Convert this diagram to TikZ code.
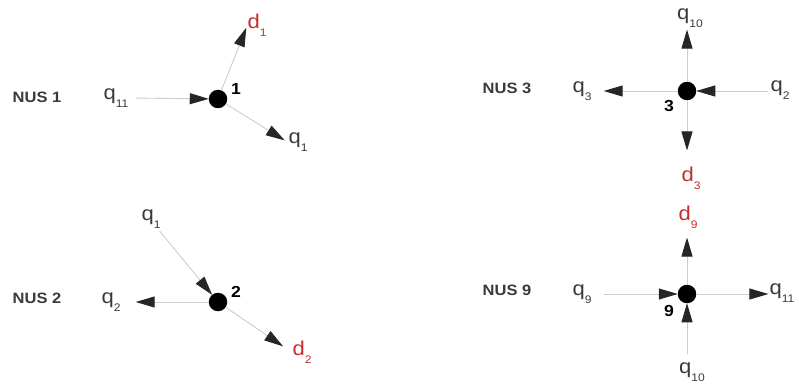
\documentclass[tikz,border=0pt]{standalone}
\usepackage{fontspec}
\setmainfont[FakeStretch=1.1]{Liberation Sans}
\usepackage{tikz}
\usetikzlibrary{arrows.meta, positioning}

\definecolor{FlowGray}{RGB}{58, 58, 58}
\definecolor{FlowRed}{RGB}{200, 45, 45}
\definecolor{LinkGray}{RGB}{205, 205, 205}
\definecolor{TipGray}{RGB}{38, 38, 38}

% flow label with lowered index
\newcommand{\flowlbl}[2]{#1\raisebox{-0.4em}{\fontsize{11}{11}\selectfont #2}}

\tikzset{
  junction/.style={circle, fill=black, minimum size=18.5pt, inner sep=0pt, outer sep=0pt},
  junctionnum/.style={font=\fontsize{16}{16}\selectfont\bfseries, text=black, inner sep=0pt},
  nuslbl/.style={font=\fontsize{15}{15}\selectfont\bfseries, text=FlowGray, inner sep=0pt},
  qlbl/.style={font=\fontsize{20}{20}\selectfont, text=FlowGray, inner sep=1pt},
  dlbl/.style={font=\fontsize{20}{20}\selectfont, text=FlowRed, inner sep=1pt},
  link/.style={draw=LinkGray, line width=0.9pt,
    -{Triangle[length=19pt, width=11pt, color=TipGray]}},
}

\begin{document}
\begin{tikzpicture}[x=1pt, y=-1pt]
  \useasboundingbox (0,0) rectangle (799,387);

  % ---- NUS 1 ----
  \node[nuslbl] (nus1) at (37,97) {NUS 1};
  \node[junction] (n1) at (218,99) {};
  \node[junctionnum] (n1num) at (236,89) {1};
  \node[qlbl] (q11a) at (116,98) {\flowlbl{q}{11}};
  \node[dlbl] (d1) at (257,25) {\flowlbl{d}{1}};
  \node[qlbl] (q1a) at (298,142) {\flowlbl{q}{1}};
  \draw[link, shorten <=6pt] (q11a.east) -- (n1);
  \draw[link] (n1) -- (d1.194);
  \draw[link, shorten >=3pt] (n1) -- (q1a.west);

  % ---- NUS 2 ----
  \node[nuslbl] (nus2) at (37,298) {NUS 2};
  \node[junction] (n2) at (218,302) {};
  \node[junctionnum] (n2num) at (236,292) {2};
  \node[qlbl] (q1b) at (151,219) {\flowlbl{q}{1}};
  \node[qlbl] (q2a) at (111,302) {\flowlbl{q}{2}};
  \node[dlbl] (d2) at (302,352) {\flowlbl{d}{2}};
  \draw[link, shorten <=2pt] (q1b.305) -- (n2);
  \draw[link, shorten >=14pt] (n2) -- (q2a.east);
  \draw[link, shorten >=10pt] (n2) -- (d2.west);

  % ---- NUS 3 ----
  \node[nuslbl] (nus3) at (507,88) {NUS 3};
  \node[junction] (n3) at (687,91) {};
  \node[junctionnum] (n3num) at (669,106) {3};
  \node[qlbl] (q10a) at (690,18) {\flowlbl{q}{10}};
  \node[qlbl] (q3) at (582,91) {\flowlbl{q}{3}};
  \node[qlbl] (q2b) at (780,90) {\flowlbl{q}{2}};
  \node[dlbl] (d3) at (691,178) {\flowlbl{d}{3}};
  \draw[link, shorten >=1pt] (n3) -- (n3 |- q10a.south);
  \draw[link, shorten >=11pt] (n3) -- (n3 -| q3.east);
  \draw[link, shorten <=1pt] (n3 -| q2b.west) -- (n3);
  \draw[link, shorten >=15pt] (n3) -- (n3 |- d3.north);

  % ---- NUS 9 ----
  \node[nuslbl] (nus9) at (507,290) {NUS 9};
  \node[junction] (n9) at (687,294) {};
  \node[junctionnum] (n9num) at (669,311) {9};
  \node[dlbl] (d9) at (688,217) {\flowlbl{d}{9}};
  \node[qlbl] (q9) at (582,294) {\flowlbl{q}{9}};
  \node[qlbl] (q11b) at (782,293) {\flowlbl{q}{11}};
  \node[qlbl] (q10b) at (692,372) {\flowlbl{q}{10}};
  \draw[link, shorten >=8pt] (n9) -- (n9 |- d9.south);
  \draw[link, shorten <=11pt] (n9 -| q9.east) -- (n9);
  \draw[link] (n9) -- (n9 -| q11b.west);
  \draw[link, shorten <=7pt] (n9 |- q10b.north) -- (n9);
\end{tikzpicture}
\end{document}
